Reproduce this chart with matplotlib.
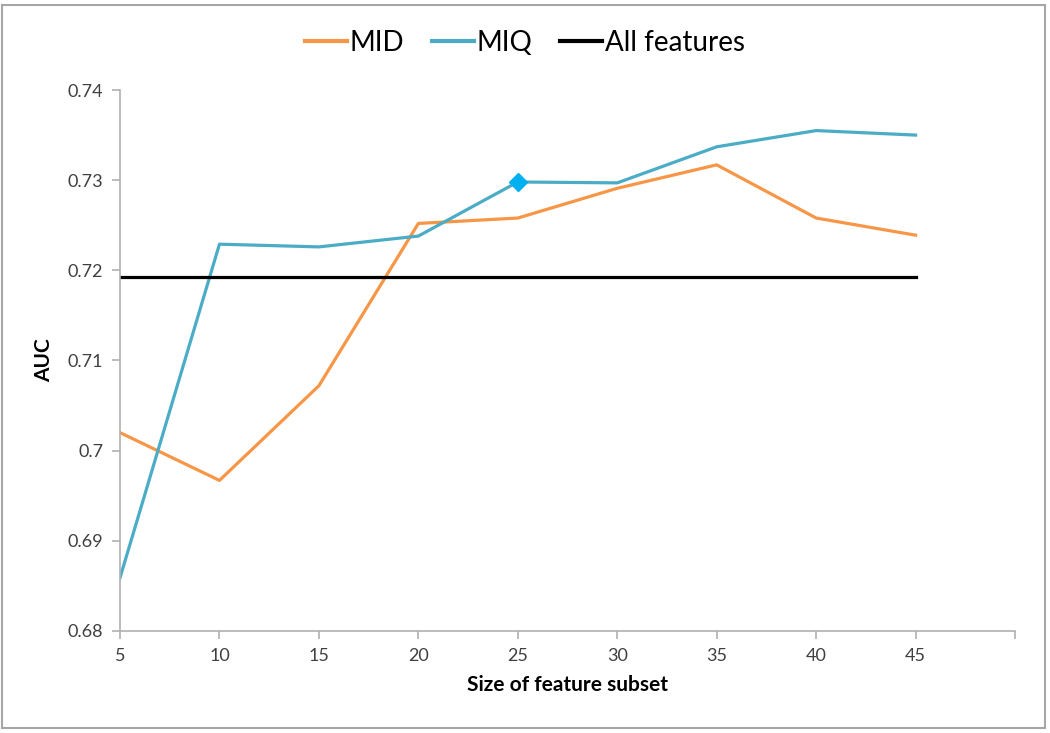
import matplotlib
matplotlib.use("Agg")
import matplotlib.pyplot as plt
from matplotlib.patches import Rectangle
from matplotlib.lines import Line2D

plt.rcParams['font.family'] = ['Lato', 'DejaVu Sans']

sizes = [5, 10, 15, 20, 25, 30, 35, 40, 45]
mid = [0.7020, 0.6967, 0.7072, 0.7252, 0.7258, 0.7291, 0.7317, 0.7258, 0.7239]
miq = [0.6859, 0.7229, 0.7226, 0.7238, 0.7298, 0.7297, 0.7337, 0.7355, 0.7350]
all_features = 0.7193
highlight_x = 25
highlight_y = 0.7298
x_ticks = [5, 10, 15, 20, 25, 30, 35, 40, 45, 50]
x_ticklabels = ['5', '10', '15', '20', '25', '30', '35', '40', '45', '']
y_ticks = [0.68, 0.69, 0.70, 0.71, 0.72, 0.73, 0.74]
y_ticklabels = ['0.68', '0.69', '0.7', '0.71', '0.72', '0.73', '0.74']

c_mid = '#F79646'
c_miq = '#4BACC6'

fig = plt.figure(figsize=(10.5, 7.33), dpi=100)
ax = fig.add_axes([0.1143, 0.1392, 0.8524, 0.7380])

ax.plot(sizes, mid, color=c_mid, lw=2.3, solid_joinstyle='round')
ax.plot(sizes, miq, color=c_miq, lw=2.3, solid_joinstyle='round')
ax.plot([sizes[0], sizes[-1]], [all_features, all_features], color='black', lw=2.3)
ax.plot([highlight_x], [highlight_y], marker='D', color='#00B0F0', markersize=9, lw=0)

ax.set_xlim(5, 50)
ax.set_ylim(0.68, 0.74)
ax.set_xticks(x_ticks)
ax.set_xticklabels(x_ticklabels)
ax.set_yticks(y_ticks)
ax.set_yticklabels(y_ticklabels)

for s in ['top', 'right']:
    ax.spines[s].set_visible(False)
for s in ['left', 'bottom']:
    ax.spines[s].set_color('#B0B0B0')
    ax.spines[s].set_linewidth(1.2)
ax.tick_params(axis='both', colors='#B0B0B0', length=6, width=1.2, labelsize=13, labelcolor='#404040', pad=6)

ax.set_xlabel('Size of feature subset', fontsize=15, fontweight='bold', labelpad=8)
ax.set_ylabel('AUC', fontsize=15, fontweight='bold', labelpad=10)

handles = [Line2D([], [], color=c_mid, lw=3),
           Line2D([], [], color=c_miq, lw=3),
           Line2D([], [], color='black', lw=3)]
fig.legend(handles, ['MID', 'MIQ', 'All features'], loc='center', bbox_to_anchor=(0.5, 0.942),
           ncol=3, frameon=False, fontsize=20, handlelength=1.5, handletextpad=0.1, columnspacing=1.0)

fig.patches.append(Rectangle((2/1050, 5/733), 1043/1050, 723/733, transform=fig.transFigure,
                             fill=False, edgecolor='#A6A6A6', lw=1.5))

fig.savefig('out.png', dpi=100)
